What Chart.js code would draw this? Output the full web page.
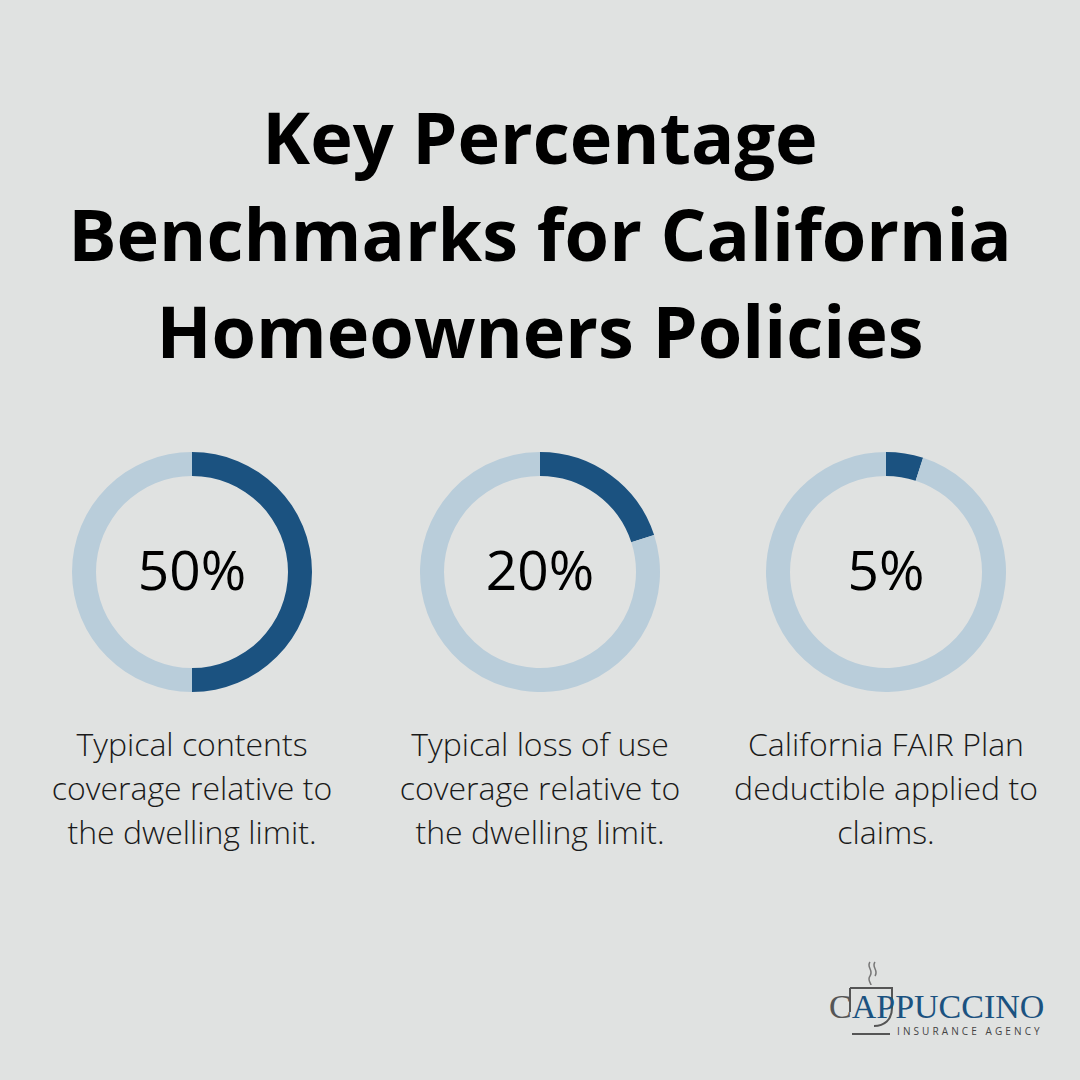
<!DOCTYPE html>
<html>
<head>
<meta charset="utf-8">
<script src="https://cdn.jsdelivr.net/npm/chart.js@4/dist/chart.umd.min.js"></script>
<style>
  body { margin: 0; background: #e0e2e1; font-family: "Open Sans", sans-serif; }
  #page { position: relative; width: 1080px; height: 1080px; overflow: hidden; }
  h1 { position: absolute; top: 88px; left: 0; width: 1080px; margin: 0; text-align: center;
       font-size: 72px; font-weight: 700; line-height: 97px; color: #000; }
  .ring { position: absolute; top: 452px; width: 240px; height: 240px; }
  .pct { position: absolute; top: 449px; width: 240px; height: 240px; line-height: 240px;
         text-align: center; font-size: 55px; color: #000; }
  .desc { position: absolute; top: 722px; width: 360px; text-align: center;
          font-size: 32px; font-weight: 300; line-height: 44px; color: #1a1a1a; }
  #logo-big { position: absolute; left: 829px; top: 988px; font-family: "Liberation Serif", serif;
              font-size: 34px; color: #1b5280; white-space: nowrap; }
  #logo-big span { color: #555; }
  #logo-small { position: absolute; left: 897px; top: 1024px; font-size: 10px; letter-spacing: 3.1px;
                color: #444; white-space: nowrap; }
  #cup { position: absolute; left: 840px; top: 958px; }
</style>
</head>
<body>
<div id="page">
  <h1>Key Percentage<br>Benchmarks for California<br>Homeowners Policies</h1>
  <canvas class="ring" id="c0" style="left:72px"></canvas>
  <canvas class="ring" id="c1" style="left:420px"></canvas>
  <canvas class="ring" id="c2" style="left:766px"></canvas>
  <div class="pct" id="p0" style="left:72px"></div>
  <div class="pct" id="p1" style="left:420px"></div>
  <div class="pct" id="p2" style="left:766px"></div>
  <div class="desc" id="d0" style="left:12px"></div>
  <div class="desc" id="d1" style="left:360px"></div>
  <div class="desc" id="d2" style="left:706px"></div>
  <svg id="cup" width="70" height="80" viewBox="0 0 70 80">
    <path d="M30 4 c-4 5 4 8 0 14 c-3 4 1 7 1 9 M35 4 c-4 5 4 8 0 14" fill="none" stroke="#777" stroke-width="1.5"/>
    <path d="M10 30 L52 30 L52 50 C52 62 44 68 34 68 M10 30 L10 54" fill="none" stroke="#555" stroke-width="2"/>
    <path d="M12 76 L50 76" stroke="#555" stroke-width="2"/>
  </svg>
  <div id="logo-big"><span>C</span>APPUCCINO</div>
  <div id="logo-small">INSURANCE AGENCY</div>
</div>
<script>
  const values = [50, 20, 5];
  const descriptions = [
    'Typical contents<br>coverage relative to<br>the dwelling limit.',
    'Typical loss of use<br>coverage relative to<br>the dwelling limit.',
    'California FAIR Plan<br>deductible applied to<br>claims.'
  ];
  const darkColor = '#1b5280';
  const lightColor = '#b9cdda';

  values.forEach(function(v, i) {
    document.getElementById('p' + i).textContent = v + '%';
    document.getElementById('d' + i).innerHTML = descriptions[i];

    new Chart(document.getElementById('c' + i), {
      type: 'doughnut',
      data: {
        labels: ['value', 'rest'],
        datasets: [{
          data: [v, 100 - v],
          backgroundColor: [darkColor, lightColor],
          borderWidth: 0
        }]
      },
      options: {
        responsive: false,
        animation: false,
        cutout: '80%',
        plugins: {
          legend: { display: false },
          tooltip: { enabled: false }
        }
      }
    });
  });
</script>
</body>
</html>
